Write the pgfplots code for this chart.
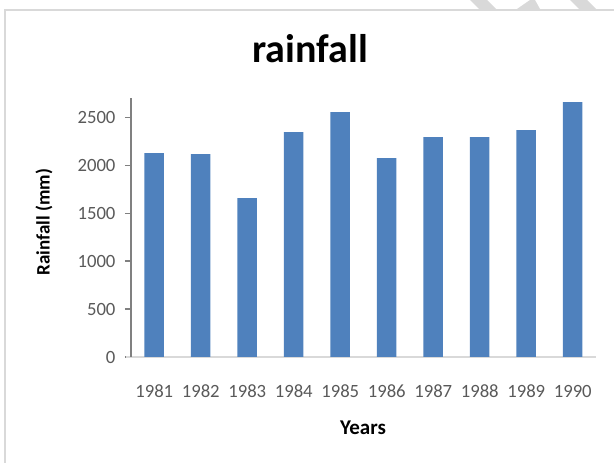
\documentclass[border=0pt]{standalone}
\usepackage{fontspec}
\setmainfont{Carlito}[Numbers={Lining,Monospaced}]
\usepackage{pgfplots}
\pgfplotsset{compat=1.18}
\definecolor{barblue}{HTML}{4F81BD}
\definecolor{ticktext}{HTML}{595959}
\definecolor{axisgray}{HTML}{808080}
\definecolor{lightline}{HTML}{D9D9D9}
\pgfplotstableread{
x year value
0 1981 2125
1 1982 2115
2 1983 1656
3 1984 2344
4 1985 2552
5 1986 2073
6 1987 2292
7 1988 2292
8 1989 2365
9 1990 2656
}\rain
\begin{document}
\begin{tikzpicture}[x=1pt,y=1pt]
\useasboundingbox (0,0) rectangle (614,463);
% chart border
\draw[lightline, line width=2pt] (5,0) -- (5,453) -- (620,453);
% watermark fragments
\fill[gray!30] (470,463) -- (487,463) -- (496,454) -- (479,454) -- cycle;
\fill[gray!30] (517,454) -- (530,463) -- (535,463) -- (540,454) -- cycle;
\fill[gray!30] (570,463) -- (587,463) -- (596,454) -- (579,454) -- cycle;
% title
\node[font=\fontsize{40}{44}\selectfont\bfseries, anchor=center] at (310,414) {rainfall};
\begin{axis}[
  at={(131pt,106pt)}, anchor=south west,
  scale only axis, width=465pt, height=259pt,
  xmin=-0.5, xmax=9.5, ymin=0, ymax=2700,
  ybar, bar width=19.5pt,
  axis x line*=bottom, axis y line*=left,
  x axis line style={draw=lightline, line width=1.5pt, -, shorten <=-5pt},
  y axis line style={draw=axisgray, line width=1.2pt, -},
  xtick=data,
  xticklabels={1981,1982,1983,1984,1985,1986,1987,1988,1989,1990},
  ytick={0,500,1000,1500,2000,2500},
  tick align=outside,
  major tick length=6pt,
  xtick style={draw=none},
  ytick style={draw=axisgray, line width=1.2pt},
  ticklabel style={font=\fontsize{18.7}{20}\selectfont, text=ticktext},
  xticklabel style={anchor=north, text height=13pt, text depth=0pt, inner sep=0pt, yshift=-21pt},
  yticklabel style={xshift=-6pt},
  /pgf/number format/assume math mode=true,
  /pgf/number format/1000 sep={},
  xlabel={Years}, ylabel={Rainfall (mm)},
  xlabel style={font=\fontsize{21}{23}\selectfont\bfseries, at={(axis description cs:0.499,-0.274)}, anchor=center},
  ylabel style={font=\fontsize{19}{21}\selectfont\bfseries, at={(axis description cs:-0.187,0.521)}, anchor=center},
  clip=false,
]
\addplot[fill=barblue, draw=none] table[x=x, y=value] {\rain};
\end{axis}
\end{tikzpicture}
\end{document}
